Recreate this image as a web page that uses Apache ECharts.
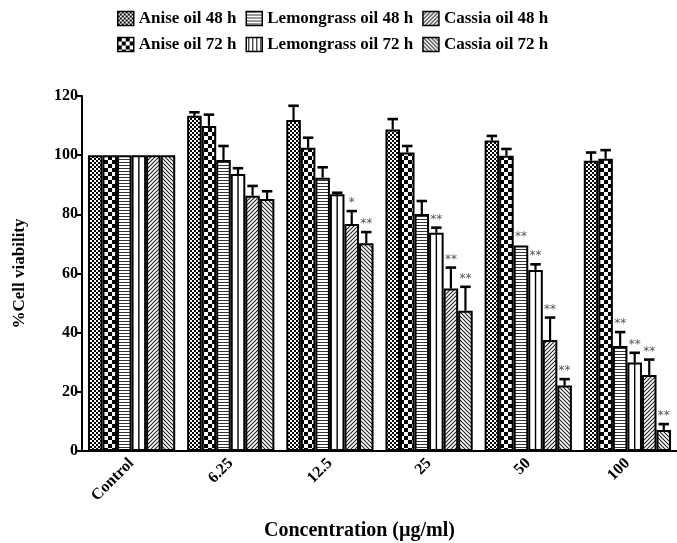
<!DOCTYPE html>
<html>
<head>
<meta charset="utf-8">
<script src="https://cdn.jsdelivr.net/npm/echarts@6/dist/echarts.min.js"></script>
<style>
html,body{margin:0;padding:0;background:#fff;}
#chart{width:677px;height:543px;}
</style>
</head>
<body>
<div id="chart"></div>
<script>
const categories = ['Control', '6.25', '12.5', '25', '50', '100'];
const seriesNames = ['Anise oil 48 h', 'Anise oil 72 h', 'Lemongrass oil 48 h', 'Lemongrass oil 72 h', 'Cassia oil 48 h', 'Cassia oil 72 h'];
const legendOrder = ['Anise oil 48 h', 'Lemongrass oil 48 h', 'Cassia oil 48 h', 'Anise oil 72 h', 'Lemongrass oil 72 h', 'Cassia oil 72 h'];
const yTicks = [0, 20, 40, 60, 80, 100, 120];

const anise48 = [100, 113.3, 111.9, 108.7, 105.0, 98.1];
const anise48Err = [0, 1.2, 4.8, 3.5, 1.5, 2.8];
const anise72 = [100, 109.9, 102.5, 100.9, 99.8, 98.8];
const anise72Err = [0, 3.8, 3.4, 2.2, 2.3, 2.9];
const lemon48 = [100, 98.4, 92.4, 80.1, 69.5, 35.5];
const lemon48Err = [0, 4.7, 3.5, 4.4, 0.3, 4.7];
const lemon72 = [100, 93.6, 86.8, 73.8, 61.2, 29.9];
const lemon72Err = [0, 2.0, 0.5, 1.7, 1.9, 3.3];
const cassia48 = [100, 86.3, 76.7, 54.9, 37.5, 25.7];
const cassia48Err = [0, 3.3, 4.4, 7.1, 7.6, 5.2];
const cassia72 = [100, 85.2, 70.2, 47.4, 22.1, 7.1];
const cassia72Err = [0, 2.6, 3.8, 8.1, 2.2, 2.0];

const anise48Sig = ['', '', '', '', '', ''];
const anise72Sig = ['', '', '', '', '', ''];
const lemon48Sig = ['', '', '', '', '**', '**'];
const lemon72Sig = ['', '', '', '**', '**', '**'];
const cassia48Sig = ['', '', '*', '**', '**', '**'];
const cassia72Sig = ['', '', '**', '**', '**', '**'];

const values = [anise48, anise72, lemon48, lemon72, cassia48, cassia72];
const errors = [anise48Err, anise72Err, lemon48Err, lemon72Err, cassia48Err, cassia72Err];
const sigs = [anise48Sig, anise72Sig, lemon48Sig, lemon72Sig, cassia48Sig, cassia72Sig];

const FONT = "'Liberation Serif', 'Times New Roman', serif";

function tile(w, h, draw) {
  const c = document.createElement('canvas');
  c.width = w; c.height = h;
  const ctx = c.getContext('2d');
  ctx.fillStyle = '#fff';
  ctx.fillRect(0, 0, w, h);
  draw(ctx, w, h);
  return { image: c, repeat: 'repeat' };
}
const patterns = [
  tile(4, 4, (ctx) => { ctx.fillStyle = '#000'; ctx.fillRect(0, 0, 2, 2); ctx.fillRect(2, 2, 2, 2); }),
  tile(8, 8, (ctx) => { ctx.fillStyle = '#000'; ctx.fillRect(0, 0, 4, 4); ctx.fillRect(4, 4, 4, 4); }),
  tile(3, 3, (ctx) => { ctx.fillStyle = '#333'; ctx.fillRect(0, 0, 3, 1); }),
  '#ffffff',
  tile(4, 4, (ctx) => {
    ctx.strokeStyle = '#222'; ctx.lineWidth = 1.1;
    ctx.beginPath();
    ctx.moveTo(-1, 1); ctx.lineTo(1, -1);
    ctx.moveTo(0, 4); ctx.lineTo(4, 0);
    ctx.moveTo(3, 5); ctx.lineTo(5, 3);
    ctx.stroke();
  }),
  tile(4, 4, (ctx) => {
    ctx.strokeStyle = '#222'; ctx.lineWidth = 1.1;
    ctx.beginPath();
    ctx.moveTo(-1, 3); ctx.lineTo(1, 5);
    ctx.moveTo(0, 0); ctx.lineTo(4, 4);
    ctx.moveTo(3, -1); ctx.lineTo(5, 1);
    ctx.stroke();
  })
];
const legendVLines = tile(4, 4, (ctx) => { ctx.fillStyle = '#000'; ctx.fillRect(2, 0, 1, 4); });

const CAT_GAP = 0.12;

const barSeries = seriesNames.map((name, i) => ({
  name: name,
  type: 'bar',
  barGap: '0%',
  barCategoryGap: (CAT_GAP * 100) + '%',
  itemStyle: { color: patterns[i], borderColor: '#000', borderWidth: 2 },
  data: values[i],
  z: 2
}));

const errSeries = seriesNames.map((name, i) => ({
  name: name + ' err',
  type: 'custom',
  z: 5,
  silent: true,
  encode: { x: 0, y: 1 },
  data: categories.map((c, k) => [k, values[i][k], errors[i][k]]),
  renderItem: function (params, api) {
    const cat = api.value(0);
    const v = api.value(1);
    const e = api.value(2);
    const sig = sigs[i][cat];
    const band = api.size([1, 0])[0];
    const bw = band * (1 - CAT_GAP) / 6;
    const cx = api.coord([cat, 0])[0] - band * (1 - CAT_GAP) / 2 + bw * (i + 0.5);
    const y0 = api.coord([cat, 0])[1];
    const yTop = api.coord([cat, v])[1];
    const yErr = api.coord([cat, v + e])[1];
    const children = [];
    if (i === 3) {
      children.push({ type: 'line', shape: { x1: cx, y1: yTop, x2: cx, y2: y0 }, style: { stroke: '#000', lineWidth: 1.4 } });
    }
    if (e > 0.4) {
      children.push({ type: 'line', shape: { x1: cx, y1: yTop, x2: cx, y2: yErr }, style: { stroke: '#000', lineWidth: 2.2 } });
      children.push({ type: 'line', shape: { x1: cx - bw * 0.36, y1: yErr, x2: cx + bw * 0.36, y2: yErr }, style: { stroke: '#000', lineWidth: 2.6 } });
    }
    if (sig) {
      children.push({ type: 'text', style: { text: sig, x: cx, y: yErr - 2, align: 'center', verticalAlign: 'bottom', fill: '#555', font: '12px DejaVu Sans' } });
    }
    return { type: 'group', children: children };
  }
}));

const chart = echarts.init(document.getElementById('chart'));
chart.setOption({
  animation: false,
  backgroundColor: '#fff',
  textStyle: { fontFamily: FONT },
  legend: {
    left: 112,
    top: 5,
    width: 480,
    itemGap: 9,
    itemWidth: 16,
    itemHeight: 14,
    icon: 'rect',
    selectedMode: false,
    textStyle: { fontFamily: FONT, fontWeight: 'bold', fontSize: 17, color: '#000' },
    data: legendOrder.map(n => {
      const idx = seriesNames.indexOf(n);
      return { name: n, icon: 'rect', itemStyle: { color: idx === 3 ? legendVLines : patterns[idx], borderColor: '#000', borderWidth: 1.5 } };
    })
  },
  grid: { left: 82, right: 0, top: 96, bottom: 92, containLabel: false, outerBoundsMode: 'none' },
  xAxis: {
    type: 'category',
    data: categories,
    name: 'Concentration (\u00b5g/ml)',
    nameLocation: 'middle',
    nameGap: 70,
    nameTextStyle: { fontFamily: FONT, fontWeight: 'bold', fontSize: 20, color: '#000', padding: [0, 40, 0, 0] },
    axisLine: { lineStyle: { color: '#000', width: 2 } },
    axisTick: { alignWithLabel: true, length: 6, lineStyle: { color: '#000', width: 2 } },
    axisLabel: { rotate: 45, margin: 10, fontFamily: FONT, fontWeight: 'bold', fontSize: 16, color: '#000' }
  },
  yAxis: {
    type: 'value',
    min: yTicks[0],
    max: yTicks[yTicks.length - 1],
    interval: 20,
    name: '%Cell viability',
    nameLocation: 'middle',
    nameGap: 54,
    nameTextStyle: { fontFamily: FONT, fontWeight: 'bold', fontSize: 17, color: '#000' },
    axisLine: { show: true, lineStyle: { color: '#000', width: 2 } },
    axisTick: { show: true, length: 5, lineStyle: { color: '#000', width: 2 } },
    splitLine: { show: false },
    axisLabel: { margin: 4, fontFamily: FONT, fontWeight: 'bold', fontSize: 16, color: '#000' }
  },
  series: barSeries.concat(errSeries)
});
</script>
</body>
</html>
